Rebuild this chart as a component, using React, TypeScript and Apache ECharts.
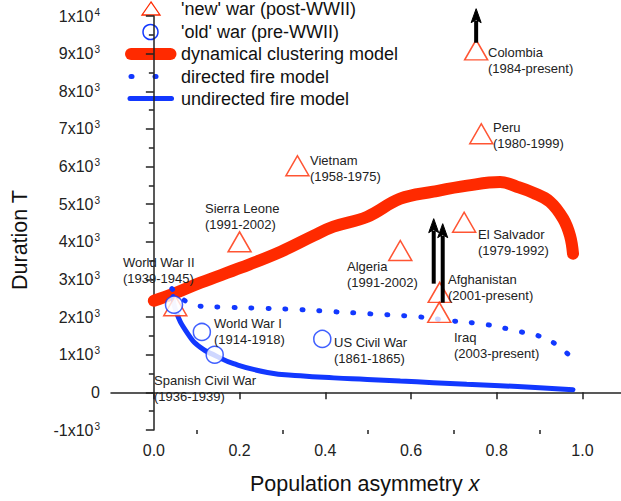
import React, { useEffect, useRef } from "react";
import * as echarts from "echarts";

const FONT = 'Arial, "Liberation Sans", sans-serif';
const RED = "#ff2a00";
const BLUE = "#1238ff";

// dynamical clustering model [x, T]
const clusteringCurve: number[][] = [
  [0.0, 2436], [0.047, 2622], [0.109, 2914], [0.203, 3313], [0.296, 3738],
  [0.373, 4163], [0.419, 4402], [0.498, 4668], [0.575, 5146], [0.652, 5332],
  [0.731, 5492], [0.808, 5590], [0.847, 5465], [0.885, 5305], [0.924, 5066],
  [0.955, 4615], [0.971, 4163], [0.978, 3685],
];
// directed fire model
const directedCurve: number[][] = [
  [0.042, 2755], [0.098, 2303], [0.179, 2258], [0.256, 2232], [0.342, 2197],
  [0.419, 2144], [0.498, 2091], [0.614, 2011], [0.691, 1905], [0.777, 1799],
  [0.854, 1613], [0.896, 1507], [0.936, 1294], [0.978, 896],
];
// undirected fire model
const undirectedCurve: number[][] = [
  [0.045, 2550], [0.051, 2170], [0.079, 1560], [0.109, 1190], [0.144, 975],
  [0.186, 763], [0.265, 530], [0.342, 440], [0.42, 385], [0.498, 345],
  [0.575, 300], [0.652, 258], [0.73, 215], [0.808, 178], [0.89, 130], [0.978, 72],
];

// 'new' wars (post-WWII)
const newWarX = [0.05, 0.2, 0.335, 0.575, 0.724, 0.764, 0.752, 0.667, 0.666];
const newWarT = [2300, 4000, 6020, 3770, 4520, 6870, 9100, 2657, 2125];
const newWarName = ["", "Sierra Leone", "Vietnam", "Algeria", "El Salvador", "Peru", "Colombia", "Afghanistan", "Iraq"];
const newWarYears = ["", "(1991-2002)", "(1958-1975)", "(1991-2002)", "(1979-1992)", "(1980-1999)", "(1984-present)", "(2001-present)", "(2003-present)"];
const newWarLabelOffset = [[0, 0], [-35, -26], [13, 2], [-53, 24], [14, 20], [12, 1], [12, 10], [8.5, -5], [15, 33]];

// 'old' wars (pre-WWII)
const oldWarX = [0.047, 0.112, 0.142, 0.393];
const oldWarT = [2330, 1605, 1000, 1420];
const oldWarName = ["World War II", "World War I", "Spanish Civil War", "US Civil War"];
const oldWarYears = ["(1939-1945)", "(1914-1918)", "(1936-1939)", "(1861-1865)"];
const oldWarLabelOffset = [[-51, -34.5], [12, -1], [-61, 33], [12, 11]];

// arrows: [x, T start, T end]
const arrows: number[][] = [
  [0.752, 9290, 10194],
  [0.653, 2888, 4615],
  [0.674, 2383, 4482],
];

const xMajorTicks = [0, 0.2, 0.4, 0.6, 0.8, 1.0];
const xMinorTicks = [0.1, 0.3, 0.5, 0.7, 0.9];

const legendItems = [
  "'new' war (post-WWII)",
  "'old' war (pre-WWII)",
  "dynamical clustering model",
  "directed fire model",
  "undirected fire model",
];

function yLabel(v: number): string {
  if (v === 0) return "{b|0}";
  const exp = Math.floor(Math.log10(Math.abs(v)));
  const mant = Math.round(v / Math.pow(10, exp));
  return `{b|${mant}x10}{s|${exp}}`;
}

export default function App() {
  const ref = useRef<HTMLDivElement>(null);
  useEffect(() => {
    if (!ref.current) return;
    const chart = echarts.init(ref.current, undefined, { renderer: "svg" });
    const axisColor = "#222";
    const legendRowY = [9, 32, 54, 76.5, 98.5];
    const textX = 181;

    // annotation rows: [x, T, index into texts]
    const annText: string[] = [];
    const annOffset: number[][] = [];
    const annData: number[][] = [];
    newWarX.forEach((x, i) => {
      if (!newWarName[i]) return;
      annData.push([x, newWarT[i], annText.length]);
      annText.push(`${newWarName[i]}\n${newWarYears[i]}`);
      annOffset.push(newWarLabelOffset[i]);
    });
    oldWarX.forEach((x, i) => {
      annData.push([x, oldWarT[i], annText.length]);
      annText.push(`${oldWarName[i]}\n${oldWarYears[i]}`);
      annOffset.push(oldWarLabelOffset[i]);
    });

    const option: any = {
      animation: false,
      backgroundColor: "#fff",
      grid: { left: 111, top: 16, right: 0, bottom: 71 },
      xAxis: [
        {
          type: "value",
          min: -0.1,
          max: 1.09,
          axisLine: { show: true, lineStyle: { color: axisColor, width: 1.5 } },
          axisTick: { show: true, customValues: xMajorTicks, length: 7, lineStyle: { color: axisColor, width: 1.5 } },
          axisLabel: {
            customValues: xMajorTicks,
            formatter: (v: number) => v.toFixed(1),
            fontSize: 16,
            color: axisColor,
            fontFamily: FONT,
            margin: 12,
          },
          splitLine: { show: false },
        },
        {
          type: "value",
          min: -0.1,
          max: 1.09,
          position: "bottom",
          axisLine: { show: false },
          axisTick: { show: true, customValues: xMinorTicks, length: 4, lineStyle: { color: axisColor, width: 1.5 } },
          axisLabel: { show: false },
          splitLine: { show: false },
        },
      ],
      yAxis: {
        type: "value",
        min: -1000,
        max: 10000,
        interval: 1000,
        axisLine: { show: true, lineStyle: { color: axisColor, width: 1.5 } },
        axisTick: { show: true, length: 8, lineStyle: { color: axisColor, width: 1.5 } },
        minorTick: { show: true, splitNumber: 2, length: 5, lineStyle: { color: axisColor, width: 1.5 } },
        axisLabel: {
          formatter: yLabel,
          margin: 11,
          rich: {
            b: { fontSize: 16, color: axisColor, fontFamily: FONT, lineHeight: 18 },
            s: { fontSize: 10, color: axisColor, fontFamily: FONT, verticalAlign: "top", lineHeight: 10, padding: [0, 0, 0, 1] },
          },
        },
        splitLine: { show: false },
      },
      series: [
        {
          type: "line",
          data: clusteringCurve,
          symbol: "none",
          smooth: 0.4,
          lineStyle: { color: RED, width: 12, cap: "round", join: "round" },
          z: 2,
        },
        {
          type: "line",
          data: directedCurve,
          symbol: "none",
          smooth: 0.4,
          lineStyle: { color: BLUE, width: 5, type: [1, 16], cap: "round" },
          z: 2,
        },
        {
          type: "line",
          data: undirectedCurve,
          symbol: "none",
          smooth: 0.5,
          lineStyle: { color: BLUE, width: 5, cap: "round" },
          z: 2,
        },
        {
          type: "scatter",
          symbol: "triangle",
          symbolSize: [23, 20],
          itemStyle: { color: "#fff", borderColor: RED, borderWidth: 1.5 },
          data: newWarX.map((x, i) => [x, newWarT[i]]),
          z: 3,
        },
        {
          type: "scatter",
          symbol: "circle",
          symbolSize: 17,
          itemStyle: { color: "#fff", borderColor: BLUE, borderWidth: 1.5 },
          data: oldWarX.map((x, i) => [x, oldWarT[i]]),
          z: 4,
        },
        {
          type: "custom",
          clip: false,
          data: annData,
          z: 6,
          renderItem: (params: any, api: any) => {
            const p = api.coord([api.value(0), api.value(1)]);
            const k = api.value(2);
            const off = annOffset[k];
            return {
              type: "text",
              x: Math.round(p[0] + off[0]),
              y: Math.round(p[1] + off[1]),
              style: {
                text: annText[k],
                fontSize: 13,
                lineHeight: 16,
                fontFamily: FONT,
                fill: "#222",
                align: "left",
                verticalAlign: "middle",
              },
            };
          },
        },
        {
          type: "custom",
          clip: false,
          data: arrows,
          z: 5,
          renderItem: (params: any, api: any) => {
            const p0 = api.coord([api.value(0), api.value(1)]);
            const p1 = api.coord([api.value(0), api.value(2)]);
            const headLen = 14;
            const headHalf = 5;
            return {
              type: "group",
              children: [
                {
                  type: "line",
                  shape: { x1: p0[0], y1: p0[1], x2: p1[0], y2: p1[1] + headLen - 2 },
                  style: { stroke: "#000", lineWidth: 4 },
                },
                {
                  type: "polygon",
                  shape: {
                    points: [
                      [p1[0], p1[1]],
                      [p1[0] - headHalf, p1[1] + headLen],
                      [p1[0], p1[1] + headLen - 3],
                      [p1[0] + headHalf, p1[1] + headLen],
                    ],
                  },
                  style: { fill: "#000", stroke: "#000", lineWidth: 1, lineJoin: "round" },
                },
              ],
            };
          },
        },
      ],
      graphic: [
        // legend
        {
          type: "polygon",
          shape: { points: [[151, legendRowY[0] - 7], [142, legendRowY[0] + 6], [160, legendRowY[0] + 6]] },
          style: { fill: "#fff", stroke: RED, lineWidth: 1.3 },
        },
        {
          type: "circle",
          shape: { cx: 150.5, cy: legendRowY[1], r: 7.5 },
          style: { fill: "#fff", stroke: BLUE, lineWidth: 1.5 },
        },
        {
          type: "line",
          shape: { x1: 131, y1: legendRowY[2], x2: 170.5, y2: legendRowY[2] },
          style: { stroke: RED, lineWidth: 12, lineCap: "round" },
        },
        {
          type: "line",
          shape: { x1: 131, y1: legendRowY[3], x2: 132, y2: legendRowY[3] },
          style: { stroke: BLUE, lineWidth: 5, lineCap: "round" },
        },
        {
          type: "line",
          shape: { x1: 155, y1: legendRowY[3], x2: 156, y2: legendRowY[3] },
          style: { stroke: BLUE, lineWidth: 5, lineCap: "round" },
        },
        {
          type: "line",
          shape: { x1: 130, y1: legendRowY[4], x2: 171.5, y2: legendRowY[4] },
          style: { stroke: BLUE, lineWidth: 5, lineCap: "round" },
        },
        ...legendItems.map((t, i) => ({
          type: "text",
          x: textX,
          y: legendRowY[i],
          style: {
            text: t,
            fontSize: 18,
            fontFamily: FONT,
            fill: "#111",
            verticalAlign: "middle",
            align: "left",
          },
        })),
        // axis titles
        {
          type: "text",
          x: 20,
          y: 240,
          rotation: Math.PI / 2,
          style: {
            text: "Duration T",
            fontSize: 21.5,
            fontFamily: FONT,
            fill: "#111",
            align: "center",
            verticalAlign: "middle",
          },
        },
        {
          type: "text",
          x: 250,
          y: 484,
          style: {
            text: "{n|Population asymmetry }{i|x}",
            fontSize: 21.5,
            fontFamily: FONT,
            fill: "#111",
            align: "left",
            verticalAlign: "middle",
            rich: {
              n: { fontSize: 21.5, fontFamily: FONT, fill: "#111" },
              i: { fontSize: 21.5, fontFamily: FONT, fill: "#111", fontStyle: "italic" },
            },
          },
        },
      ],
    };
    chart.setOption(option);
    return () => chart.dispose();
  }, []);
  return <div ref={ref} style={{ width: 621, height: 501, position: "absolute", left: 0, top: 0 }} />;
}
